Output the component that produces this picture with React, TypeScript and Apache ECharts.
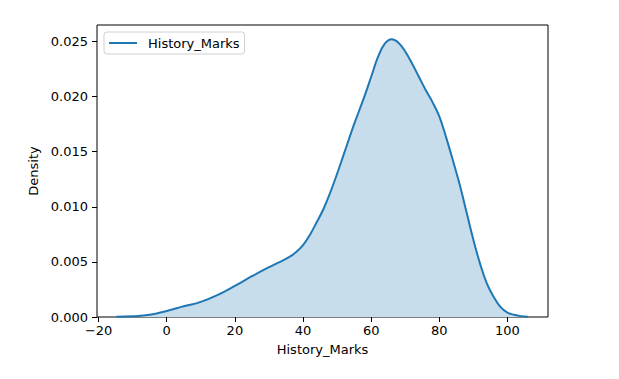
import React, { useEffect, useRef } from "react";
import * as echarts from "echarts";

const seriesName = "History_Marks";
const marks = [-14.8, -10, -5, 0, 5, 10, 15, 20, 25, 30, 32, 34, 36, 38, 40, 42, 44, 46, 48, 50, 52, 55, 58, 60, 62, 64, 66, 68, 70, 72, 74, 76, 78, 80, 82, 84, 86, 88, 90, 92, 94, 96, 98, 100, 102, 104, 106];
const density = [0.00002, 0.00006, 0.0002, 0.00055, 0.00097, 0.00137, 0.002, 0.00282, 0.0037, 0.00452, 0.00482, 0.00512, 0.00545, 0.0059, 0.00652, 0.00745, 0.0086, 0.0098, 0.0113, 0.0130, 0.0148, 0.0175, 0.02, 0.0218, 0.0236, 0.0248, 0.0252, 0.0249, 0.0241, 0.023, 0.0218, 0.0206, 0.0195, 0.0182, 0.0163, 0.0142, 0.012, 0.0095, 0.007, 0.0048, 0.003, 0.0018, 0.0009, 0.0004, 0.0002, 0.00008, 0.00002];
const xTicks = [-20, 0, 20, 40, 60, 80, 100];
const yTicks = [0, 0.005, 0.01, 0.015, 0.02, 0.025];

const FONT = "DejaVu Sans";

export default function App() {
  const ref = useRef<HTMLDivElement>(null);
  useEffect(() => {
    if (!ref.current) return;
    const chart = echarts.init(ref.current, null, { renderer: "svg" });
    const data = marks.map((m, i) => [m, density[i]]);
    chart.setOption({
      animation: false,
      backgroundColor: "#ffffff",
      textStyle: { fontFamily: FONT },
      grid: {
        left: 97,
        right: 71,
        top: 25,
        bottom: 62,
        show: true,
        borderColor: "#000000",
        borderWidth: 1,
        backgroundColor: "transparent",
      },
      legend: {
        left: 104,
        top: 32,
        padding: [4, 5, 4, 5],
        backgroundColor: "#ffffff",
        borderColor: "#d0d0d0",
        borderWidth: 1,
        borderRadius: 3,
        itemWidth: 28,
        itemHeight: 2,
        itemGap: 10,
        data: [{ name: seriesName, icon: "rect" }],
        textStyle: { fontFamily: FONT, fontSize: 13, color: "#000000", padding: [0, 0, 0, 6], lineHeight: 14 },
      },
      xAxis: {
        type: "value",
        min: -20.47,
        max: 111.9,
        name: "History_Marks",
        nameLocation: "middle",
        nameGap: 26,
        nameTextStyle: { fontFamily: FONT, fontSize: 13, color: "#000000" },
        splitLine: { show: false },
        axisLine: { show: false, onZero: false },
        axisTick: { show: true, inside: false, length: 5, lineStyle: { color: "#000000", width: 1 }, customValues: xTicks },
        axisLabel: {
          show: true,
          margin: 7,
          fontFamily: FONT,
          fontSize: 13,
          color: "#000000",
          customValues: xTicks,
          formatter: (v: number) => (v < 0 ? "\u2212" + Math.abs(v) : String(v)),
        },
      },
      yAxis: {
        type: "value",
        min: 0,
        max: 0.0265,
        name: "Density",
        nameLocation: "middle",
        nameGap: 53,
        nameTextStyle: { fontFamily: FONT, fontSize: 13, color: "#000000" },
        splitLine: { show: false },
        axisLine: { show: false, onZero: false },
        axisTick: { show: true, inside: false, length: 5, lineStyle: { color: "#000000", width: 1 }, customValues: yTicks },
        axisLabel: {
          show: true,
          margin: 9,
          fontFamily: FONT,
          fontSize: 13,
          color: "#000000",
          customValues: yTicks,
          formatter: (v: number) => v.toFixed(3),
        },
      },
      series: [
        {
          name: seriesName,
          type: "line",
          data,
          smooth: 0.4,
          showSymbol: false,
          symbol: "none",
          color: "#1f77b4",
          lineStyle: { color: "#1f77b4", width: 2 },
          areaStyle: { color: "rgb(199,221,236)", opacity: 1, origin: "start" },
        },
      ],
    });
    return () => chart.dispose();
  }, []);
  return <div ref={ref} style={{ position: "fixed", left: 0, top: 0, width: 619, height: 379 }} />;
}
